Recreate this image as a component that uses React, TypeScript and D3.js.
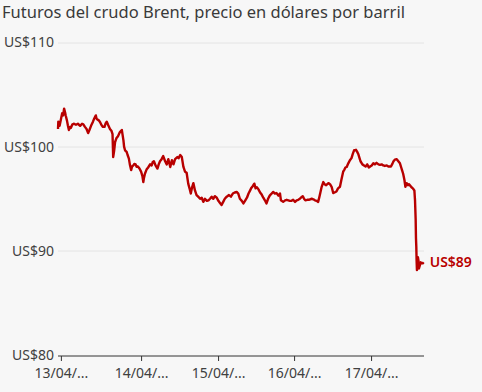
import { useEffect, useRef } from "react";
import * as d3 from "d3";

// Brent futures, hourly-ish readings (hours from start, USD per barrel)
const hours = [
  0, 0.1, 0.5, 0.9, 1.3, 1.6, 1.9, 2.2, 2.4, 2.8, 3.1, 3.4, 3.7, 4.0, 4.5, 5.0, 5.6, 6.2, 6.9, 7.5,
  7.9, 8.4, 8.9, 9.4, 9.8, 10.3, 10.9, 11.3, 11.8, 12.0, 12.3, 12.8, 13.2, 13.6, 14.0, 14.5, 14.8, 15.2, 15.6, 16.2,
  16.7, 17.0, 17.2, 17.5, 17.8, 18.2, 18.7, 19.3, 19.9, 20.1, 20.4, 20.6, 20.9, 21.4, 21.7, 22.1, 22.4, 22.8, 23.1, 23.5,
  23.8, 24.2, 24.5, 24.9, 25.4, 25.9, 26.3, 26.6, 26.8, 27.1, 27.6, 28.1, 28.7, 29.2, 29.5, 29.9, 30.4, 31.0, 31.4, 31.8,
  32.3, 32.8, 33.4, 33.9, 34.4, 35.0, 35.5, 36.0, 36.5, 37.2, 37.6, 38.1, 38.6, 39.1, 39.6, 40.1, 40.6, 41.0, 41.4, 41.8,
  42.2, 42.7, 43.2, 43.7, 44.3, 44.8, 45.3, 45.8, 46.4, 46.9, 47.4, 47.9, 48.4, 48.9, 49.5, 50.0, 50.5, 51.0, 51.5, 52.0,
  52.6, 53.3, 53.9, 54.5, 55.1, 55.7, 56.2, 56.7, 57.3, 57.8, 58.3, 58.9, 59.4, 59.9, 60.2, 60.7, 61.2, 61.6, 62.0, 62.5,
  63.0, 63.5, 64.0, 64.5, 65.0, 65.5, 66.0, 66.6, 67.1, 67.6, 68.1, 68.7, 69.2, 69.5, 70.2, 70.8, 71.3, 71.8, 72.3, 72.8,
  73.3, 73.9, 74.4, 74.9, 75.4, 75.9, 76.3, 76.7, 77.1, 77.7, 78.2, 79.1, 79.6, 80.1, 80.6, 81.1, 81.5, 81.8, 82.2, 82.7,
  83.1, 83.6, 84.3, 84.8, 85.3, 85.8, 86.2, 86.8, 87.3, 87.9, 88.4, 88.9, 89.3, 89.6, 90.0, 90.5, 91.0, 91.5, 91.9, 92.3,
  92.6, 92.9, 93.2, 93.6, 94.0, 94.3, 94.9, 95.4, 95.9, 96.4, 96.9, 97.3, 97.8, 98.3, 98.8, 99.3, 99.9, 100.4, 100.9, 101.4,
  101.9, 102.5, 103.0, 103.5, 103.8, 104.3, 104.6, 105.0, 105.6, 106.1, 106.6, 107.0, 107.3, 107.6, 108.0, 108.3, 108.7, 109.1, 109.4, 109.7,
  110.2, 110.6, 111.1, 111.3, 111.5, 111.6, 111.7, 111.8, 111.9, 112.1, 112.2, 112.4, 112.5, 112.8, 113.1, 113.3, 113.7, 114.0,
];

const prices = [
  101.7, 102.4, 102.0, 102.6, 103.2, 103.0, 103.65, 103.3, 103.0, 102.5, 102.0, 101.6, 101.9, 101.8, 102.15, 102.2, 102.1, 102.2, 102.0, 102.2,
  102.15, 101.9, 101.7, 101.3, 101.6, 102.0, 102.4, 102.7, 103.0, 102.7, 102.6, 102.5, 102.3, 102.05, 101.9, 101.9, 102.2, 102.4, 102.1, 101.7,
  101.5, 101.2, 99.0, 99.6, 100.45, 100.8, 101.0, 101.4, 101.6, 101.2, 100.6, 100.0, 99.65, 99.5, 99.2, 98.85, 98.3, 97.75, 98.1, 98.2,
  98.35, 98.3, 98.07, 98.1, 97.9, 97.6, 97.2, 96.6, 97.0, 97.4, 97.8, 98.0, 98.3, 98.2, 98.5, 98.6, 98.2, 97.9, 98.3, 98.6,
  98.8, 99.1, 98.6, 98.3, 98.8, 98.05, 98.7, 98.3, 98.8, 99.0, 98.9, 99.2, 99.0, 98.05, 97.6, 97.5, 96.45, 96.0, 95.5, 96.1,
  96.5, 95.8, 95.35, 95.2, 95.0, 95.1, 94.7, 95.0, 94.8, 94.85, 95.0, 95.2, 95.0, 95.25, 95.1, 94.8, 94.6, 94.4, 94.7, 95.0,
  95.2, 95.35, 95.2, 95.5, 95.6, 95.65, 95.5, 95.0, 94.8, 94.55, 94.8, 95.1, 95.5, 95.8, 96.0, 96.2, 96.45, 96.0, 96.1, 95.9,
  95.6, 95.4, 95.1, 94.85, 94.55, 95.0, 95.3, 95.5, 95.65, 95.5, 95.55, 95.3, 95.5, 94.85, 94.7, 94.85, 94.9, 94.85, 94.8, 94.8,
  94.9, 94.7, 94.85, 94.9, 95.0, 95.15, 95.25, 95.0, 94.85, 94.9, 94.9, 95.0, 94.95, 94.85, 94.8, 94.7, 95.2, 95.6, 96.15, 96.6,
  96.4, 96.3, 96.5, 96.4, 96.15, 95.55, 95.6, 95.7, 96.0, 96.15, 96.9, 97.6, 97.8, 98.0, 98.05, 98.4, 98.7, 98.9, 99.3, 99.65,
  99.65, 99.7, 99.55, 99.3, 98.9, 98.6, 98.3, 98.2, 98.1, 98.3, 98.0, 98.1, 98.2, 98.4, 98.3, 98.45, 98.3, 98.25, 98.3, 98.2,
  98.15, 98.2, 98.1, 98.1, 98.1, 98.4, 98.6, 98.75, 98.8, 98.6, 98.4, 98.0, 97.7, 97.4, 96.8, 96.15, 96.5, 96.3, 96.4, 96.3,
  96.1, 96.0, 95.8, 94.85, 93.0, 91.2, 90.4, 89.0, 88.15, 88.6, 89.4, 89.0, 88.3, 88.6, 88.9, 88.8, 88.8, 88.9,
];

const yTicks = [80, 90, 100, 110];
const xTickHours = [0.9, 25.9, 49.9, 73.6, 97.6];
const xTickLabels = ["13/04/...", "14/04/...", "15/04/...", "16/04/...", "17/04/..."];

const TITLE = "Futuros del crudo Brent, precio en dólares por barril";
const END_LABEL = "US$89";

const W = 482;
const H = 392;
const RED = "#b80000";
const FONT = "'Noto Sans', sans-serif";

export default function App() {
  const svgRef = useRef<SVGSVGElement>(null);

  useEffect(() => {
    document.body.style.margin = "0";
    document.body.style.background = "#f7f7f7";

    const svg = d3.select(svgRef.current);
    svg.selectAll("*").remove();

    const margin = { top: 42.5, right: 58, bottom: 37, left: 58 };
    const innerW = W - margin.left - margin.right;
    const innerH = H - margin.top - margin.bottom;

    const x = d3.scaleLinear().domain([0, 114.1]).range([0, innerW]);
    const y = d3.scaleLinear().domain([80, 110]).range([innerH, 0]);

    svg
      .append("text")
      .attr("x", 2)
      .attr("y", 18)
      .attr("fill", "#3a3a3a")
      .attr("font-family", FONT)
      .attr("font-size", 16.5)
      .text(TITLE);

    const g = svg.append("g").attr("transform", `translate(${margin.left},${margin.top})`);

    // ---- Gridlines ----
    g.append("g")
      .selectAll("line")
      .data(yTicks.filter((d) => d !== 80))
      .join("line")
      .attr("x1", 0)
      .attr("x2", innerW)
      .attr("y1", (d) => Math.round(y(d)) + 0.5)
      .attr("y2", (d) => Math.round(y(d)) + 0.5)
      .attr("stroke", "#e4e4e4");

    // ---- Y labels ----
    g.append("g")
      .selectAll("text")
      .data(yTicks)
      .join("text")
      .attr("x", -4)
      .attr("y", (d) => y(d))
      .attr("dy", "0.35em")
      .attr("text-anchor", "end")
      .attr("fill", "#404040")
      .attr("font-family", FONT)
      .attr("font-size", 14)
      .text((d) => `US$${d}`);

    // ---- X axis ----
    const xAxis = d3
      .axisBottom(x)
      .tickValues(xTickHours)
      .tickSize(5)
      .tickPadding(7)
      .tickFormat((_d, i) => xTickLabels[i]);

    g.append("g")
      .attr("transform", `translate(0,${Math.round(innerH) + 0.5})`)
      .call(xAxis)
      .call((sel) => sel.select(".domain").attr("stroke", "#333").attr("d", `M0,0H${innerW}`))
      .call((sel) => sel.selectAll(".tick line").attr("stroke", "#333"))
      .call((sel) =>
        sel
          .selectAll(".tick text")
          .attr("fill", "#404040")
          .attr("font-family", FONT)
          .attr("font-size", 14)
      );

    // ---- Line ----
    const data = hours.map((h, i) => ({ h, v: prices[i] }));
    const line = d3
      .line<{ h: number; v: number }>()
      .x((d) => x(d.h))
      .y((d) => y(d.v));

    g.append("path")
      .datum(data)
      .attr("d", line)
      .attr("fill", "none")
      .attr("stroke", RED)
      .attr("stroke-width", 2.4)
      .attr("stroke-linejoin", "round");

    const last = data[data.length - 1];
    g.append("text")
      .attr("x", x(last.h) + 6)
      .attr("y", y(last.v))
      .attr("dy", "0.35em")
      .attr("fill", RED)
      .attr("font-family", FONT)
      .attr("font-size", 14)
      .attr("font-weight", 600)
      .text(END_LABEL);
  }, []);

  return <svg ref={svgRef} width={W} height={H} style={{ display: "block", background: "#f7f7f7" }} />;
}
